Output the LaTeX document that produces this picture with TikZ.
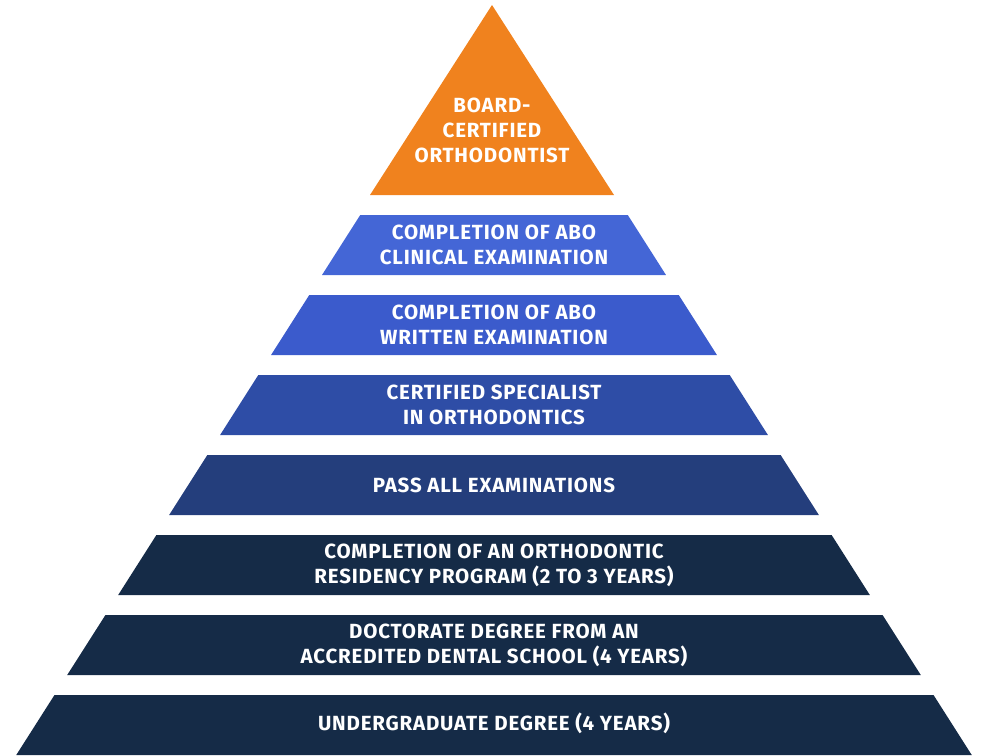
\documentclass[tikz,border=0pt]{standalone}
\usepackage{fontspec}
\setmainfont[LetterSpace=4]{Fira Sans}
\definecolor{orng}{HTML}{F0821E}
\definecolor{b1}{HTML}{4466D6}
\definecolor{b2}{HTML}{3B5BCC}
\definecolor{b3}{HTML}{2E4DA6}
\definecolor{b4}{HTML}{243E7C}
\definecolor{b5}{HTML}{152B47}
\tikzset{lbl/.style={text=white,font=\fontsize{20.5}{25}\selectfont\bfseries,align=center,inner sep=0pt}}
\begin{document}
\begin{tikzpicture}[x=1pt,y=-1pt]
\useasboundingbox (0,0) rectangle (990,755);
% apex
\fill[orng] (492,5) -- (614,195) -- (370,195) -- cycle;
\node[lbl] (top) at (492,130) {BOARD-\\CERTIFIED\\ORTHODONTIST};
\foreach \i/\c in {0/b1,1/b2,2/b3,3/b4,4/b5,5/b5,6/b5}{
  \pgfmathsetmacro{\yt}{215+80*\i}
  \pgfmathsetmacro{\yb}{275+80*\i}
  \pgfmathsetmacro{\ht}{0.637*(\yt-5)}
  \pgfmathsetmacro{\hb}{0.637*(\yb-5)}
  \fill[\c] (494-\ht,\yt) -- (494+\ht,\yt) -- (494+\hb,\yb) -- (494-\hb,\yb) -- cycle;
}
\node[lbl] (l1) at (494,245) {COMPLETION OF ABO\\CLINICAL EXAMINATION};
\node[lbl] (l2) at (494,325) {COMPLETION OF ABO\\WRITTEN EXAMINATION};
\node[lbl] (l3) at (494,405) {CERTIFIED SPECIALIST\\IN ORTHODONTICS};
\node[lbl] (l4) at (494,485) {PASS ALL EXAMINATIONS};
\node[lbl] (l5) at (494,565) {COMPLETION OF AN ORTHODONTIC\\RESIDENCY PROGRAM (2 TO 3 YEARS)};
\node[lbl] (l6) at (494,645) {DOCTORATE DEGREE FROM AN\\ACCREDITED DENTAL SCHOOL (4 YEARS)};
\node[lbl] (l7) at (494,723) {UNDERGRADUATE DEGREE (4 YEARS)};
\end{tikzpicture}
\end{document}
